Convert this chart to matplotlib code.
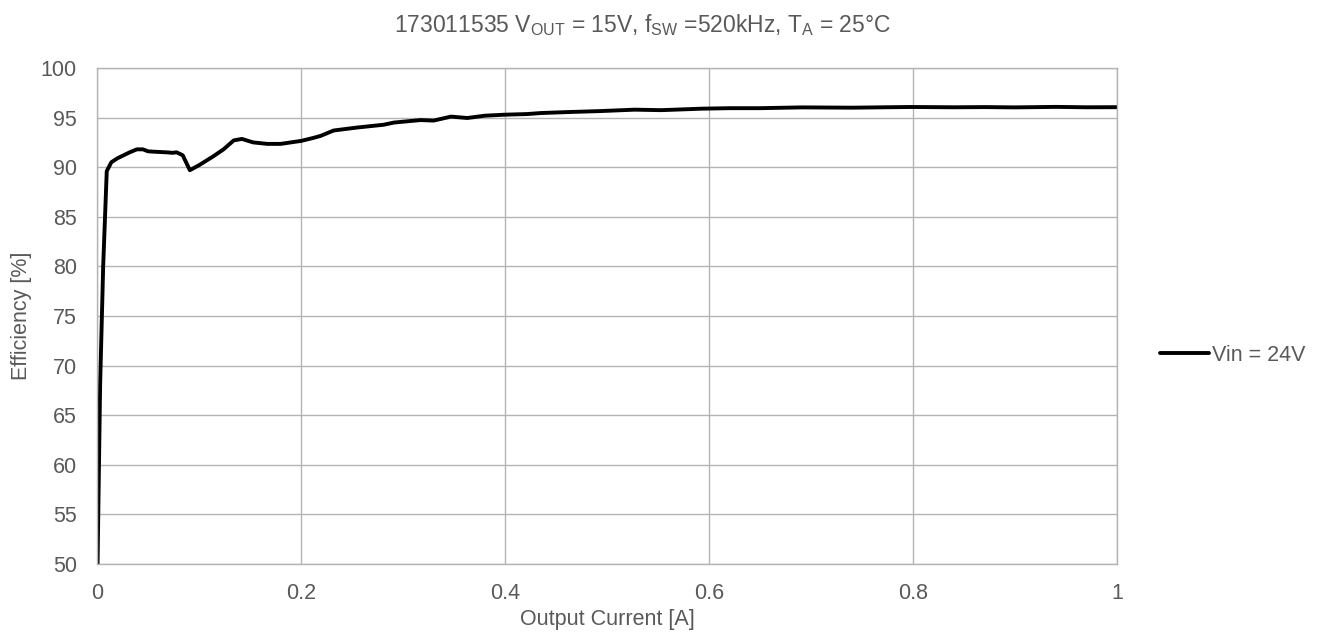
import matplotlib as mpl
mpl.use('Agg')
import matplotlib.pyplot as plt

# Efficiency vs output current, Vin = 24V
corrente = [0.0005, 0.003, 0.006, 0.0095, 0.014, 0.020, 0.026, 0.032, 0.039, 0.045,
            0.050, 0.058, 0.068, 0.074, 0.078, 0.084, 0.091, 0.100, 0.114, 0.124,
            0.134, 0.142, 0.153, 0.167, 0.180, 0.200, 0.212, 0.219, 0.232, 0.255,
            0.281, 0.291, 0.317, 0.330, 0.347, 0.363, 0.380, 0.399, 0.422, 0.435,
            0.462, 0.494, 0.527, 0.553, 0.593, 0.620, 0.650, 0.691, 0.740, 0.780,
            0.799, 0.840, 0.870, 0.900, 0.940, 0.970, 1.000]
eficiencia = [50.0, 68.0, 80.0, 89.6, 90.5, 90.9, 91.2, 91.5, 91.8, 91.8,
              91.6, 91.55, 91.5, 91.45, 91.5, 91.2, 89.7, 90.2, 91.1, 91.8,
              92.7, 92.85, 92.5, 92.35, 92.35, 92.65, 92.95, 93.15, 93.7, 94.0,
              94.28, 94.5, 94.75, 94.7, 95.1, 94.96, 95.19, 95.29, 95.36, 95.46,
              95.56, 95.66, 95.8, 95.75, 95.9, 95.95, 95.95, 96.03, 96.0, 96.05,
              96.07, 96.04, 96.06, 96.03, 96.08, 96.04, 96.05]

xticks = [0, 0.2, 0.4, 0.6, 0.8, 1.0]
xticklabels = ['0', '0.2', '0.4', '0.6', '0.8', '1']
yticks = [50, 55, 60, 65, 70, 75, 80, 85, 90, 95, 100]

plt.rcParams['font.family'] = ['Liberation Sans', 'DejaVu Sans']
plt.rcParams['mathtext.fontset'] = 'custom'
plt.rcParams['mathtext.rm'] = 'Liberation Sans'
plt.rcParams['mathtext.it'] = 'Liberation Sans'

cinza = '#595959'
grade = '#b4b4b4'
fs = 15.5

fig = plt.figure(figsize=(13.24, 6.4), dpi=100)
ax = fig.add_axes([0.0733, 0.11875, 0.7704, 0.775])
ax.plot(corrente, eficiencia, color='black', linewidth=2.8, label='Vin = 24V',
        solid_joinstyle='round', solid_capstyle='round')

ax.set_xlim(0, 1)
ax.set_ylim(50, 100)
ax.set_xticks(xticks)
ax.set_xticklabels(xticklabels)
ax.set_yticks(yticks)
ax.grid(True, color=grade, linewidth=1.0)
ax.set_axisbelow(True)
for s in ax.spines.values():
    s.set_color(grade)
    s.set_linewidth(1.0)
ax.tick_params(length=0, labelsize=fs, colors=cinza)
ax.tick_params(axis='x', pad=14)
ax.tick_params(axis='y', pad=14.5)

fig.text(0.4585, 0.023, 'Output Current [A]', ha='center', va='baseline',
         fontsize=fs, color=cinza)
fig.text(0.0166, 0.506, 'Efficiency [%]', ha='center', va='center', rotation=90,
         fontsize=fs, color=cinza)

fig.text(0.485, 0.95, r'173011535 V$_{\rm OUT}$ = 15V, f$_{\rm SW}$ =520kHz, T$_{\rm A}$ = 25°C',
         ha='center', va='baseline', fontsize=16.5, color=cinza)

leg = fig.legend(loc='center left', bbox_to_anchor=(0.876, 0.4453), frameon=False,
                 fontsize=fs, handlelength=2.3, handletextpad=0.14, borderaxespad=0,
                 borderpad=0)
for t in leg.get_texts():
    t.set_color(cinza)

fig.savefig('out.png', dpi=100)
